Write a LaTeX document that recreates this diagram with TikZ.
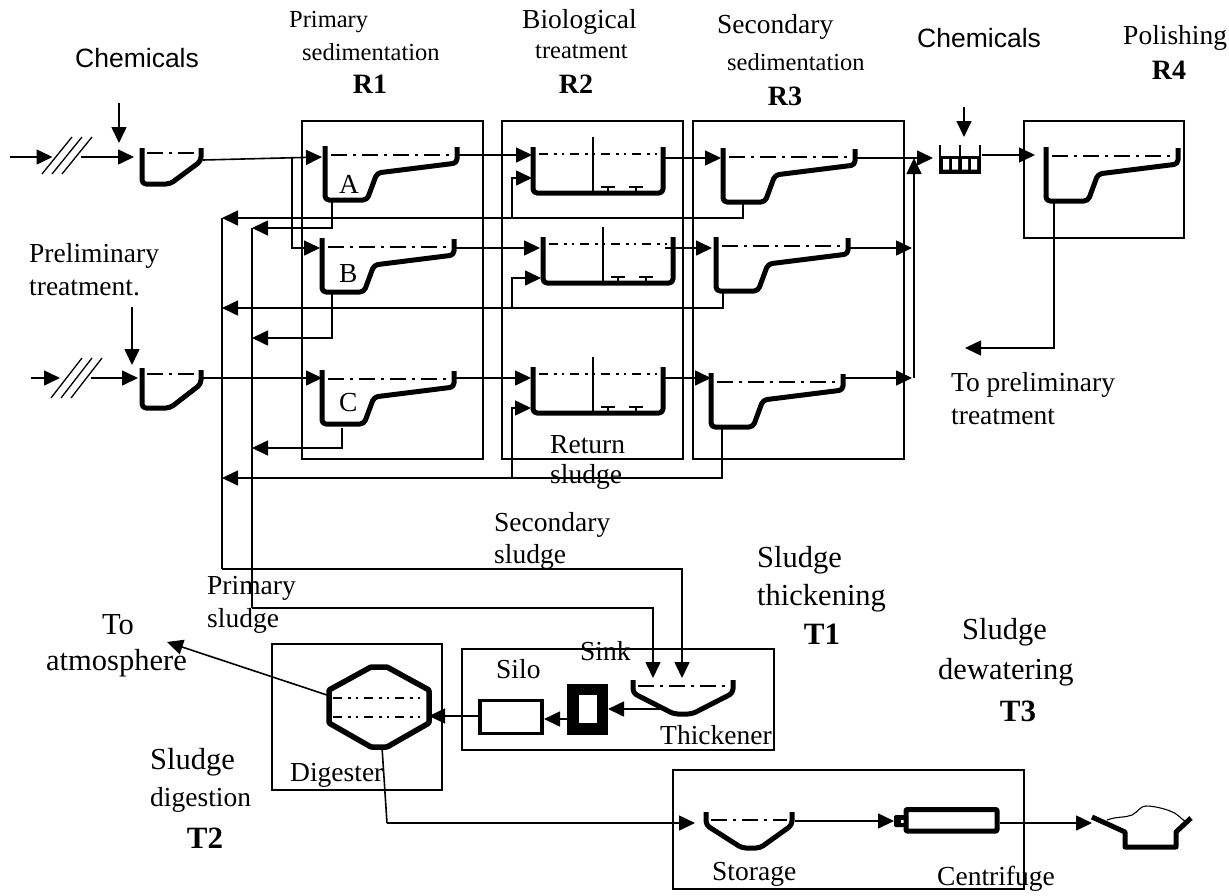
\documentclass[tikz,border=0pt]{standalone}
\usepackage{fontspec}
\setmainfont{Liberation Serif}
\newfontfamily\arialfont{Liberation Sans}
\usetikzlibrary{arrows.meta}
\tikzset{
  procbox/.style={draw=black,line width=1.6pt,inner sep=0pt},
  tankline/.style={draw=black,line width=5pt,rounded corners=4pt,line join=round},
  water/.style={draw=black,line width=1.2pt,dash pattern=on 16pt off 6pt on 3pt off 6pt},
  waterb/.style={draw=black,line width=1.2pt,dash pattern=on 9pt off 6pt on 2.5pt off 5pt on 2.5pt off 6pt},
  flow/.style={draw=black,line width=1.6pt,-{Triangle[length=16pt,width=15pt]}},
  plain/.style={draw=black,line width=1.6pt},
  lab/.style={inner sep=0pt,anchor=west,font=\fontsize{27.5}{28}\selectfont},
  labs/.style={inner sep=0pt,anchor=west,font=\fontsize{24.5}{26}\selectfont},
  labbig/.style={inner sep=0pt,anchor=west,font=\fontsize{30.5}{32}\selectfont},
  bold lab/.style={inner sep=0pt,font=\fontsize{28}{28}\selectfont\bfseries},
  bold big/.style={inner sep=0pt,font=\fontsize{31}{32}\selectfont\bfseries},
  sans lab/.style={inner sep=0pt,anchor=west,font=\fontsize{26.5}{28}\selectfont\arialfont},
}
\newcommand{\pbox}[5]{\node[procbox,minimum width={(#4-#2)*1pt},minimum height={(#5-#3)*1pt}] (#1) at ({(#2+#4)/2},{(#3+#5)/2}) {};}
\newcommand{\sedtank}[3]{%
  \draw[tankline] (#2,#3) -- (#2,{#3+54}) -- ({#2+42},{#3+54}) -- ({#2+52},{#3+27}) -- ({#2+132},{#3+17}) -- ({#2+132},{#3+1});
  \draw[water] ({#2+6},{#3+9}) -- ({#2+127},{#3+9});
}
\newcommand{\biotank}[3]{%
  \draw[tankline] (#2,#3) -- (#2,{#3+46}) -- ({#2+130},{#3+46}) -- ({#2+130},#3);
  \draw[waterb] ({#2+6},{#3+7}) -- ({#2+125},{#3+7});
  \draw[draw=black,line width=1.3pt] ({#2+60},{#3-10}) -- ({#2+60},{#3+44});
  \draw[draw=black,line width=1.3pt] ({#2+75},{#3+41}) -- ({#2+75},{#3+44}) ({#2+68},{#3+40}) -- ({#2+82},{#3+40});
  \draw[draw=black,line width=1.3pt] ({#2+103},{#3+41}) -- ({#2+103},{#3+44}) ({#2+96},{#3+40}) -- ({#2+110},{#3+40});
}
\begin{document}
\begin{tikzpicture}[x=1pt,y=-1pt]
\useasboundingbox (0,0) rectangle (1229,895);
% process boxes
\pbox{R1}{302}{121}{483}{459}
\pbox{R2}{502}{121}{683}{459}
\pbox{R3}{693}{121}{904}{459}
\pbox{R4}{1024}{121}{1184}{238}
\pbox{T2}{272}{644}{442}{790}
\pbox{T1}{462}{649}{774}{750}
\pbox{T3}{673}{770}{1024}{889}
% pre-basins
\draw[tankline] (142,148) -- (142,184) -- (170,184) -- (201,161) -- (201,148);
\draw[water] (147,153) -- (197,153);
\draw[tankline] (142,368) -- (142,408) -- (170,408) -- (201,384) -- (201,370);
\draw[water] (147,374) -- (197,374);
% screens
\foreach \d in {0,10,20}{
  \draw[draw=black,line width=1.3pt] ({42+\d},174) -- ({72+\d},137);
  \draw[draw=black,line width=1.3pt] ({51+\d},398) -- ({82+\d},358);
}
% tanks
\sedtank{A}{325}{146}
\sedtank{B}{322}{238}
\sedtank{C}{322}{370}
\biotank{BA}{533}{147}
\biotank{BB}{543}{237}
\biotank{BC}{533}{367}
\sedtank{SA}{723}{148}
\sedtank{SB}{716}{237}
\sedtank{SC}{711}{373}
\sedtank{P}{1046}{147}
% fine screen
\fill[black] (939,156) rectangle (981,173.5);
\fill[white] (943,159) rectangle (949,169.5) (952,159) rectangle (958,169.5) (962,159) rectangle (968,169.5) (971,159) rectangle (977,169.5);
\draw[draw=black,line width=2pt] (940,145) -- (940,157) (980,145) -- (980,157);
\draw[draw=black,line width=1.5pt] (960,145) -- (960,157);
% sludge line units
\draw[tankline,line width=5.5pt,rounded corners=1pt] (329,690) -- (371,667) -- (387,667) -- (429,690) -- (429,723) -- (387,747) -- (371,747) -- (329,723) -- cycle;
\draw[waterb] (333,698) -- (425,698);
\draw[waterb] (333,717) -- (425,717);
\draw[draw=black,line width=3.5pt] (480,700.5) rectangle (542,733.5);
\fill[black] (567,684) rectangle (608,735);
\fill[white] (579,695) rectangle (597,723);
\draw[tankline] (633,680) -- (633,693) -- (674,714) -- (692,714) -- (733,693) -- (733,680);
\draw[water] (638,686) -- (728,686);
\draw[tankline] (706,812) -- (706,825) -- (742,848) -- (760,848) -- (792,825) -- (792,812);
\draw[water] (711,820) -- (787,820);
\fill[black,rounded corners=1.5pt] (894,815) rectangle (908,827);
\fill[white] (901,819.5) rectangle (906,822.5);
\draw[tankline,rounded corners=1pt] (906,809.5) rectangle (997,831);
\draw[draw=black,line width=5pt,line join=round] (1092,817) -- (1125,832) -- (1125,847) -- (1176,847) -- (1176,832) -- (1191,818);
\draw[draw=black,line width=1.1pt] (1107,820) .. controls (1118,816) and (1125,818) .. (1132,815) .. controls (1138,812) and (1140,806) .. (1146,806) .. controls (1155,806) and (1165,809) .. (1170,811) .. controls (1177,813) and (1180,818) .. (1186,822);
% named junctions
\coordinate (feed1) at (10,157);
\coordinate (scr1in) at (52.5,157);
\coordinate (scr1out) at (81,157);
\coordinate (pre1in) at (134,157);
\coordinate (chem1) at (119,103);
\coordinate (chem1t) at (119,143);
\coordinate (pre1out) at (203,160);
\coordinate (Ain) at (322,157);
\coordinate (branch) at (292,158);
\coordinate (Bin) at (320,248);
\coordinate (feed2) at (31,378);
\coordinate (scr2in) at (60,378);
\coordinate (scr2out) at (91,378);
\coordinate (pre2in) at (138,378);
\coordinate (chem3) at (132,307);
\coordinate (chem3t) at (132,365);
\coordinate (pre2out) at (203,378);
\coordinate (Cin) at (322,378);
\coordinate (Ao) at (459,155);
\coordinate (BAin) at (532,155);
\coordinate (BAout) at (665,158);
\coordinate (SAin) at (721,158);
\coordinate (Bo) at (454,248);
\coordinate (BBin) at (540,248);
\coordinate (BBout) at (665,248);
\coordinate (SBin) at (712,248);
\coordinate (Co) at (456,378);
\coordinate (BCin) at (531,378);
\coordinate (BCout) at (665,378);
\coordinate (SCin) at (711,378);
\coordinate (SAo) at (857,158);
\coordinate (SBo) at (850,248);
\coordinate (SCo) at (845,378);
\coordinate (screenin) at (933,158);
\coordinate (mergeB) at (912,248);
\coordinate (mergeC) at (912,378);
\coordinate (riserB) at (914,378);
\coordinate (riserT) at (914,158);
\coordinate (screenout) at (982,155);
\coordinate (Pin) at (1035,155);
\coordinate (chem2) at (964,107);
\coordinate (chem2t) at (964,137);
\coordinate (Psl) at (1054,200);
\coordinate (Pslt) at (965,348);
% main flows
\draw[flow] (feed1) -- (scr1in);
\draw[flow] (scr1out) -- (pre1in);
\draw[flow] (chem1) -- (chem1t);
\draw[flow] (pre1out) -- (Ain);
\draw[flow] (branch) |- (Bin);
\draw[flow] (feed2) -- (scr2in);
\draw[flow] (scr2out) -- (pre2in);
\draw[flow] (chem3) -- (chem3t);
\draw[flow] (pre2out) -- (Cin);
\draw[flow] (Ao) -- (BAin);
\draw[flow] (BAout) -- (SAin);
\draw[flow] (Bo) -- (BBin);
\draw[flow] (BBout) -- (SBin);
\draw[flow] (Co) -- (BCin);
\draw[flow] (BCout) -- (SCin);
\draw[flow] (SAo) -- (screenin);
\draw[flow] (SBo) -- (mergeB);
\draw[flow] (SCo) -- (mergeC);
\draw[flow] (riserB) -- (riserT);
\draw[flow] (screenout) -- (Pin);
\draw[flow] (chem2) -- (chem2t);
\draw[flow] (Psl) |- (Pslt);
% primary sludge
\coordinate (Asl) at (332,200);
\coordinate (Bsl) at (332,292);
\coordinate (Csl) at (342,428);
\coordinate (Asl2) at (252,228);
\coordinate (Bsl2) at (252,338);
\coordinate (Csl2) at (252,448);
\draw[flow] (Asl) |- (Asl2);
\draw[flow] (Bsl) |- (Bsl2);
\draw[flow] (Csl) |- (Csl2);
% secondary sludge
\coordinate (SAsl) at (743,200);
\coordinate (SBsl) at (723,291);
\coordinate (SCsl) at (722,428);
\coordinate (SAsl2) at (222,218);
\coordinate (SBsl2) at (222,308);
\coordinate (SCsl2) at (222,478);
\draw[flow] (SAsl) |- (SAsl2);
\draw[flow] (SBsl) |- (SBsl2);
\draw[flow] (SCsl) |- (SCsl2);
% return sludge
\coordinate (ret1) at (512,218);
\coordinate (ret1t) at (532,178);
\coordinate (ret2) at (512,308);
\coordinate (ret2t) at (541,278);
\coordinate (ret3) at (512,478);
\coordinate (ret3t) at (531,408);
\draw[flow] (ret1) |- (ret1t);
\draw[flow] (ret2) |- (ret2t);
\draw[flow] (ret3) |- (ret3t);
% to thickener
\coordinate (thin1) at (653,678);
\coordinate (thin2) at (682,678);
\coordinate (pc) at (252,608);
\coordinate (sc) at (222,569);
\draw[plain] (Asl2) -- (pc);
\draw[plain] (SAsl2) -- (sc);
\draw[flow] (pc) -| (thin1);
\draw[flow] (sc) -| (thin2);
% sludge train
\coordinate (tho) at (662,709);
\coordinate (sinkin) at (608,709);
\coordinate (sinko) at (567,719);
\coordinate (siloin) at (544,719);
\coordinate (siloout) at (479,716);
\coordinate (digin) at (429,716);
\coordinate (digtop) at (327,695);
\coordinate (atm) at (167,642);
\coordinate (digbot) at (382,747);
\coordinate (digbend) at (387,823);
\coordinate (stin) at (695,823);
\coordinate (sto) at (795,821);
\coordinate (cenin) at (894,821);
\coordinate (ceno) at (1000,823);
\coordinate (landin) at (1092,823);
\draw[flow] (tho) -- (sinkin);
\draw[flow] (sinko) -- (siloin);
\draw[flow] (siloout) -- (digin);
\draw[flow] (digtop) -- (atm);
\draw[plain] (digbot) -- (digbend);
\draw[flow] (digbend) -- (stin);
\draw[flow] (sto) -- (cenin);
\draw[flow] (ceno) -- (landin);
% labels
\node[sans lab] (l1) at (75,58) {Chemicals};
\node[sans lab] (l2) at (917,38) {Chemicals};
\node[labs] (l3) at (289,22) {Primary};
\node[labs] (l4) at (302,52) {sedimentation};
\node[bold lab] (l5) at (370,84) {R1};
\node[lab] (l6) at (522,22) {Biological};
\node[labs] (l7) at (535,52) {treatment};
\node[bold lab] (l8) at (576,84) {R2};
\node[lab] (l9) at (717,27) {Secondary};
\node[labs] (l10) at (727,62) {sedimentation};
\node[bold lab] (l11) at (785,96) {R3};
\node[lab] (l12) at (1123,38) {Polishing};
\node[bold lab] (l13) at (1169,70) {R4};
\node[lab] (l14) at (29,256) {Preliminary};
\node[lab] (l15) at (29,288) {treatment.};
\node[lab] (l16) at (339,184) {A};
\node[lab] (l17) at (339,274) {B};
\node[lab] (l18) at (339,403) {C};
\node[lab] (l19) at (550,445) {Return};
\node[lab] (l20) at (550,477) {sludge};
\node[lab] (l21) at (494,525) {Secondary};
\node[lab] (l22) at (494,557) {sludge};
\node[lab] (l23) at (207,588) {Primary};
\node[lab] (l24) at (207,621) {sludge};
\node[labbig] (l25) at (102,625) {To};
\node[labbig] (l26) at (46,663) {atmosphere};
\node[labbig] (l27) at (757,560) {Sludge};
\node[labbig] (l28) at (757,598) {thickening};
\node[bold big] (l29) at (822,634) {T1};
\node[labbig] (l30) at (962,632) {Sludge};
\node[labbig] (l31) at (938,672) {dewatering};
\node[bold big] (l32) at (1018,711) {T3};
\node[labbig] (l33) at (150,762) {Sludge};
\node[lab] (l34) at (150,800) {digestion};
\node[bold big] (l35) at (205,838) {T2};
\node[lab] (l36) at (496,669) {Silo};
\node[lab] (l37) at (580,651) {Sink};
\node[lab] (l38) at (660,735) {Thickener};
\node[lab] (l39) at (290,775) {Digester};
\node[lab] (l40) at (712,874) {Storage};
\node[lab] (l41) at (937,879) {Centrifuge};
\node[lab] (l42) at (951,385) {To preliminary};
\node[lab] (l43) at (951,417) {treatment};
\end{tikzpicture}
\end{document}
